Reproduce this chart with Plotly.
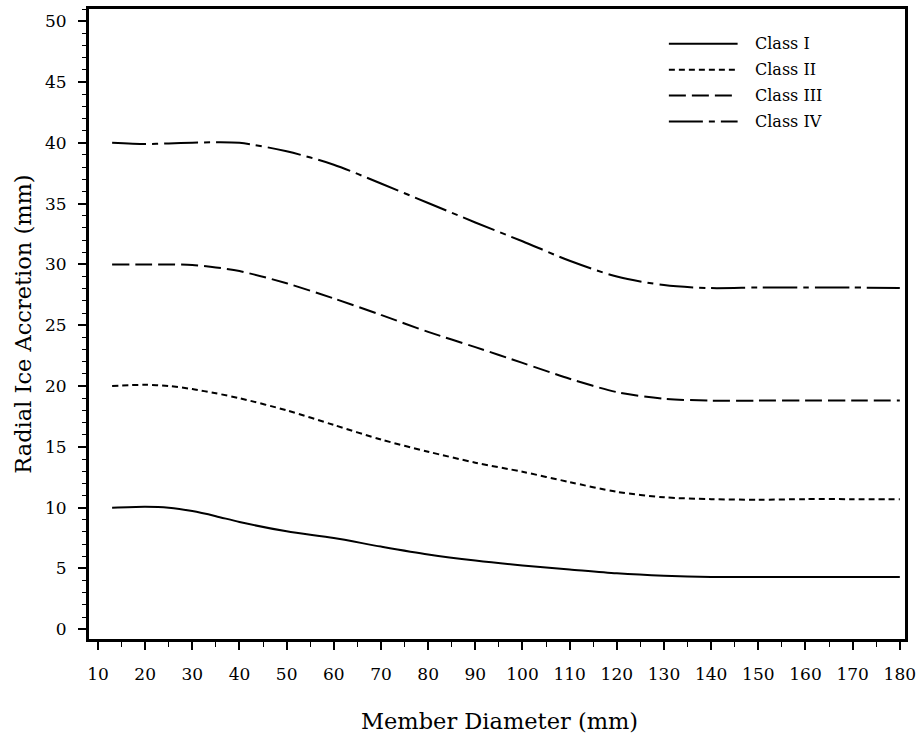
import plotly.graph_objects as go

diameter = [13, 20, 25, 30, 35, 40, 50, 60, 70, 80, 90, 100, 110, 120, 130, 140, 150, 160, 170, 180]
class_1 = [10.0, 10.08, 10.0, 9.72, 9.3, 8.82, 8.05, 7.5, 6.8, 6.15, 5.65, 5.25, 4.92, 4.6, 4.4, 4.3, 4.3, 4.3, 4.3, 4.3]
class_2 = [20.0, 20.1, 20.0, 19.75, 19.4, 19.0, 18.0, 16.8, 15.6, 14.6, 13.7, 12.95, 12.1, 11.3, 10.85, 10.7, 10.65, 10.7, 10.7, 10.7]
class_3 = [30.0, 30.0, 30.0, 29.95, 29.75, 29.45, 28.45, 27.2, 25.85, 24.45, 23.2, 21.9, 20.6, 19.5, 18.95, 18.8, 18.8, 18.8, 18.8, 18.8]
class_4 = [40.0, 39.9, 39.95, 40.0, 40.05, 40.0, 39.3, 38.2, 36.65, 35.05, 33.45, 31.9, 30.3, 29.0, 28.3, 28.05, 28.1, 28.1, 28.1, 28.05]

series_names = ["Class I", "Class II", "Class III", "Class IV"]
series_values = [class_1, class_2, class_3, class_4]
dashes = ["solid", "6px,4px", "17px,6px", "34px,6px,6px,6px"]

x_ticks = list(range(10, 181, 10))
y_ticks = list(range(0, 51, 5))

fig = go.Figure()
for name, vals, dash in zip(series_names, series_values, dashes):
    fig.add_trace(go.Scatter(
        x=diameter, y=vals, mode="lines", name=name,
        line=dict(color="black", width=2, dash=dash, shape="spline", smoothing=0.8),
        showlegend=False,
    ))

# manual legend (top right)
L, R, T, B = 89, 908, 6, 639
W, H = R - L, B - T
def px(xp):
    return (xp - L) / W
def py(yp):
    return (B - yp) / H

FONT = "DejaVu Serif"
shapes = []
annotations = []
for i, (name, dash) in enumerate(zip(series_names, dashes)):
    yrow = 41 + 26 * i
    shapes.append(dict(type="line", xref="paper", yref="paper",
                       x0=px(671), x1=px(740), y0=py(yrow), y1=py(yrow),
                       line=dict(color="black", width=2, dash=dash)))
    annotations.append(dict(xref="paper", yref="paper", x=px(755), y=py(yrow),
                            text=name, showarrow=False, xanchor="left", yanchor="middle",
                            font=dict(family=FONT, size=16, color="black")))

annotations.append(dict(xref="paper", yref="paper", x=px(501), y=py(721),
                        text="Member Diameter (mm)", showarrow=False,
                        xanchor="center", yanchor="middle",
                        font=dict(family=FONT, size=22.5, color="black")))
annotations.append(dict(xref="paper", yref="paper", x=px(23), y=py(323),
                        text="Radial Ice Accretion (mm)", showarrow=False, textangle=-90,
                        xanchor="center", yanchor="middle",
                        font=dict(family=FONT, size=22.5, color="black")))

fig.update_layout(
    width=922, height=740,
    margin=dict(l=L, r=922 - R, t=T, b=740 - B),
    paper_bgcolor="white", plot_bgcolor="white",
    shapes=shapes, annotations=annotations,
    xaxis=dict(range=[8.1, 181.1], tickvals=x_ticks, ticktext=[str(v) for v in x_ticks],
               showgrid=False, zeroline=False, showline=True, linecolor="black", linewidth=3,
               mirror=True, ticks="outside", ticklen=8, tickwidth=1.5, tickcolor="black",
               ticklabelstandoff=10,
               minor=dict(dtick=5, tick0=0, ticks="outside", ticklen=5, tickwidth=1, tickcolor="black"),
               tickfont=dict(family=FONT, size=17, color="black")),
    yaxis=dict(range=[-0.8, 51.0], tickvals=y_ticks, ticktext=[str(v) for v in y_ticks],
               showgrid=False, zeroline=False, showline=True, linecolor="black", linewidth=3,
               mirror=True, ticks="outside", ticklen=8, tickwidth=1.5, tickcolor="black",
               ticklabelstandoff=8,
               minor=dict(dtick=1, tick0=0, ticks="outside", ticklen=4, tickwidth=1, tickcolor="black"),
               tickfont=dict(family=FONT, size=17, color="black")),
)

fig.write_html("out.html")
